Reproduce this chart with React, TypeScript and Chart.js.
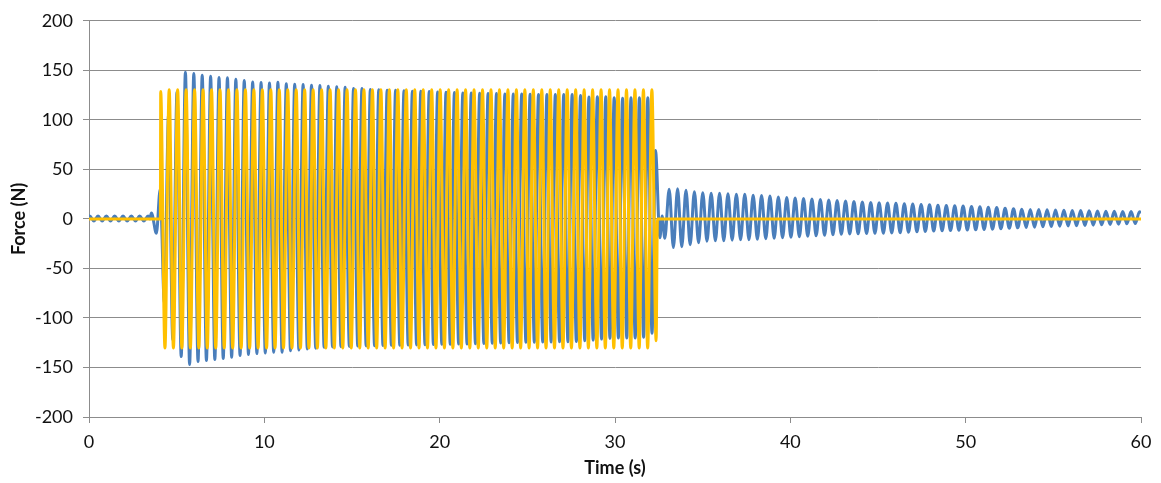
import React, { useEffect, useRef } from "react";
import { Chart, registerables } from "chart.js";

Chart.register(...registerables);

// ---- axis ticks ----
const xTickValues = [0, 10, 20, 30, 40, 50, 60];
const yTickValues = [-200, -150, -100, -50, 0, 50, 100, 150, 200];

// ---- yellow (command) series ----
const yellowLeadTimes = [0, 4.07];
const yellowLeadValues = [0, 0];
const yellowStart = 4.09; // time of first peak (s)
const yellowHalfPeriod = 0.2415; // s between a peak and the next trough
const yellowPeaks = [
  128.5, 130.5, 130.5, 130.5, 130.5, 130.5, 130.5, 130.5, 130.5, 130.5,
  130.5, 130.5, 130.5, 130.5, 130.5, 130.5, 130.5, 130.5, 130.5, 130.5,
  130.5, 130.5, 130.5, 130.5, 130.5, 130.5, 130.5, 130.5, 130.5, 130.5,
  130.5, 130.5, 130.5, 130.5, 130.5, 130.5, 130.5, 130.5, 130.5, 130.5,
  130.5, 130.5, 130.5, 130.5, 130.5, 130.5, 130.5, 130.5, 130.5, 130.5,
  130.5, 130.5, 130.5, 130.5, 130.5, 130.5, 130.5, 130.5, 130.5,
];
const yellowTroughs = [
  -130.3, -130.3, -130.3, -130.3, -130.3, -130.3, -130.3, -130.3, -130.3, -130.3,
  -130.3, -130.3, -130.3, -130.3, -130.3, -130.3, -130.3, -130.3, -130.3, -130.3,
  -130.3, -130.3, -130.3, -130.3, -130.3, -130.3, -130.3, -130.3, -130.3, -130.3,
  -130.3, -130.3, -130.3, -130.3, -130.3, -130.3, -130.3, -130.3, -130.3, -130.3,
  -130.3, -130.3, -130.3, -130.3, -130.3, -130.3, -130.3, -130.3, -130.3, -130.3,
  -130.3, -130.3, -130.3, -130.3, -130.3, -130.3, -130.3, -130.3, -123,
];
const yellowTailTimes = [32.42, 60];
const yellowTailValues = [0, 0];

// ---- blue (measured force) series ----
const blueLeadTimes = [0];
const blueLeadValues = [1];
const bluePreStart = 0.04;
const bluePreHalfPeriod = 0.2375;
const bluePreValues = [3, -2, 3, -2, 3, -2, 3, -2, 3, -2, 3, -2, 3, -2];
const blueRampTimes = [3.37, 3.47, 3.56, 3.845];
const blueRampValues = [3, 0, 6, -14.5];

const blueForcedStart = 4.06;
const blueForcedHalfPeriod = 0.23975;
const blueForcedPeaks = [
  30, 105, 128, 148, 146.8, 145, 144, 142.7, 142.4, 141,
  139.7, 138.3, 137.8, 137.3, 138, 136.5, 136, 135.7, 135, 134.6,
  134, 133.3, 133, 131.7, 131.7, 130.7, 130.5, 130, 129.8, 129.5,
  129, 128.8, 128.5, 128, 127.8, 127.5, 127, 127, 126.8, 126.5,
  126.5, 126.2, 126, 126, 125.8, 125.7, 125.6, 125.6, 125.6, 125.6,
  124.7, 123, 123.3, 123.3, 122.3, 121.7, 122.3, 122.3, 122.3,
];
const blueForcedTroughs = [
  -85, -122, -139, -147, -144, -143, -142, -141, -139.7, -138,
  -137, -136, -135.3, -134.7, -134.7, -133, -132.3, -131.3, -130.6, -129.6,
  -129.3, -129, -128.7, -128.4, -128.2, -128, -127.8, -127.6, -127.5, -127.4,
  -127.2, -127, -126.8, -126.6, -126.5, -126.4, -126.3, -126, -125.8, -125.5,
  -125.3, -125, -124.8, -124.6, -124.5, -124.3, -124.2, -124, -124, -123.7,
  -123, -122.3, -121.3, -120.6, -120.3, -120.3, -120.3, -119.6, -115.5,
];
const blueReleaseTimes = [32.31, 32.56, 32.69, 32.84];
const blueReleaseValues = [69, -19, 3, -19.5];

const blueFreeStart = 33.09;
const blueFreeHalfPeriod = 0.2395;
const blueFreePeaks = [
  30, 30.5, 29, 27.5, 26.5, 26, 26, 25.5, 25, 25,
  24, 23.5, 23, 22, 21.5, 21, 20.5, 20, 19.5, 19,
  18.5, 18, 17.5, 17, 16.5, 16.2, 16, 15.8, 15.4, 15,
  14.6, 14.2, 13.8, 13.5, 13.2, 13, 12.6, 12.2, 11.8, 11.4,
  10.8, 10.2, 9.8, 9.6, 9.4, 9.2, 9, 8.8, 8.6, 8.4,
  8.2, 8, 7.8, 7.6, 7.5, 7.4, 7.3,
];
const blueFreeTroughs = [
  -29, -28, -26, -24, -22.5, -22, -22, -21.5, -21, -21,
  -20.5, -20, -19.5, -19, -18.5, -18, -17.5, -17, -16.5, -16,
  -15.5, -15.2, -15, -14.8, -14.6, -14.4, -14.2, -14, -13.5, -13,
  -12.6, -12.3, -12, -11.8, -11.5, -11.2, -11, -10.7, -10.4, -10,
  -9.5, -9, -8.7, -8.4, -8, -7.7, -7.4, -7.2, -7, -6.6,
  -6.3, -6, -5.6, -5.3, -5, -4.7,
];
const blueTailTimes = [60];
const blueTailValues = [6];

type Pt = { x: number; y: number };

function interleave(a: number[], b: number[]): number[] {
  const out: number[] = [];
  for (let i = 0; i < a.length; i++) {
    out.push(a[i]);
    if (i < b.length) out.push(b[i]);
  }
  return out;
}
function sampled(start: number, step: number, values: number[]): Pt[] {
  return values.map((v, i) => ({ x: start + i * step, y: v }));
}
function explicit(times: number[], values: number[]): Pt[] {
  return times.map((t, i) => ({ x: t, y: values[i] }));
}

const yellowData: Pt[] = [
  ...explicit(yellowLeadTimes, yellowLeadValues),
  ...sampled(yellowStart, yellowHalfPeriod, interleave(yellowPeaks, yellowTroughs)),
  ...explicit(yellowTailTimes, yellowTailValues),
];

const blueData: Pt[] = [
  ...explicit(blueLeadTimes, blueLeadValues),
  ...sampled(bluePreStart, bluePreHalfPeriod, bluePreValues),
  ...explicit(blueRampTimes, blueRampValues),
  ...sampled(blueForcedStart, blueForcedHalfPeriod, interleave(blueForcedPeaks, blueForcedTroughs)),
  ...explicit(blueReleaseTimes, blueReleaseValues),
  ...sampled(blueFreeStart, blueFreeHalfPeriod, interleave(blueFreePeaks, blueFreeTroughs)),
  ...explicit(blueTailTimes, blueTailValues),
];

const FONT = "Lato, 'Liberation Sans', sans-serif";
const GRID = "#8c8c8c";

export default function App() {
  const ref = useRef<HTMLCanvasElement | null>(null);
  useEffect(() => {
    document.body.style.margin = "0";
    if (!ref.current) return;
    const chart = new Chart(ref.current, {
      type: "line",
      data: {
        datasets: [
          {
            label: "Command",
            data: yellowData,
            borderColor: "#FFC000",
            backgroundColor: "#FFC000",
            borderWidth: 3,
            pointRadius: 0,
            cubicInterpolationMode: "monotone",
            borderJoinStyle: "round",
            fill: false,
            order: 0,
          },
          {
            label: "Force",
            data: blueData,
            borderColor: "#4A7EBB",
            backgroundColor: "#4A7EBB",
            borderWidth: 3,
            pointRadius: 0,
            cubicInterpolationMode: "monotone",
            borderJoinStyle: "round",
            fill: false,
            order: 1,
          },
        ],
      },
      options: {
        responsive: false,
        animation: false,
        events: [],
        layout: { padding: { left: 0, right: 20, top: 19, bottom: 0 } },
        plugins: { legend: { display: false }, tooltip: { enabled: false } },
        scales: {
          x: {
            type: "linear",
            min: 0,
            max: 60,
            afterBuildTicks: (s: any) => {
              s.ticks = xTickValues.map((v) => ({ value: v }));
            },
            afterFit: (s: any) => {
              s.height = 66;
            },
            ticks: { color: "#111", font: { family: FONT, size: 18 }, padding: 8, maxRotation: 0 },
            grid: { drawOnChartArea: false, drawTicks: true, tickLength: 6, color: GRID },
            border: { color: GRID, width: 1 },
            title: {
              display: true,
              text: "Time (s)",
              color: "#111",
              font: { family: FONT, size: 18, weight: "bold" },
              padding: { top: 4, bottom: 4 },
            },
          },
          y: {
            type: "linear",
            min: -200,
            max: 200,
            afterBuildTicks: (s: any) => {
              s.ticks = yTickValues.map((v) => ({ value: v }));
            },
            afterFit: (s: any) => {
              s.width = 89;
            },
            ticks: { color: "#111", font: { family: FONT, size: 18 }, padding: 10 },
            grid: { color: GRID, drawTicks: true, tickLength: 6, lineWidth: 1 },
            border: { color: GRID, width: 1 },
            title: {
              display: true,
              text: "Force (N)",
              color: "#111",
              font: { family: FONT, size: 18, weight: "bold" },
              padding: { top: 8, bottom: 4 },
            },
          },
        },
      },
    } as any);
    return () => chart.destroy();
  }, []);
  return (
    <div style={{ width: 1161, height: 483, background: "#fff" }}>
      <canvas ref={ref} width={1161} height={483} style={{ display: "block" }} />
    </div>
  );
}
